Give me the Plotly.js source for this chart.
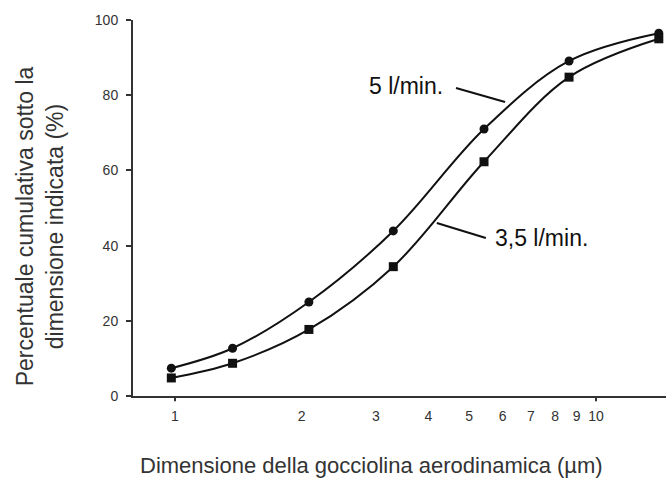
<!DOCTYPE html>
<html>
<head>
<meta charset="utf-8">
<script src="https://cdn.plot.ly/plotly-3.0.1.min.js"></script>
<style>html,body{margin:0;padding:0;background:#fff;}#chart{width:666px;height:478px;}</style>
</head>
<body>
<div id="chart"></div>
<script>
// Data
const sizes = [0.98, 1.37, 2.08, 3.3, 5.42, 8.63, 14.1];       // aerodynamic droplet size (µm)
const flow5 = [7.4, 12.7, 25.0, 43.9, 71.0, 89.1, 96.5];        // 5 l/min.
const flow35 = [4.8, 8.7, 17.7, 34.4, 62.3, 84.8, 95.0];        // 3,5 l/min.
const xTickVals = [1, 2, 3, 4, 5, 6, 7, 8, 9, 10];
const xTickText = ['1', '2', '3', '4', '5', '6', '7', '8', '9', '10'];
const xMarkedTicks = [1, 10];
const yTickVals = [0, 20, 40, 60, 80, 100];
const xTitle = 'Dimensione della gocciolina aerodinamica (µm)';
const yTitle = 'Percentuale cumulativa sotto la<br>dimensione indicata (%)';

const FONT = 'Liberation Sans, Arial, sans-serif';
const INK = '#111';
const GREY = '#333';

const traces = [
  {
    x: sizes, y: flow5, type: 'scatter', mode: 'lines+markers', name: '5 l/min.',
    line: {color: INK, width: 2, shape: 'spline', smoothing: 1},
    marker: {symbol: 'circle', size: 9, color: INK}
  },
  {
    x: sizes, y: flow35, type: 'scatter', mode: 'lines+markers', name: '3,5 l/min.',
    line: {color: INK, width: 2, shape: 'spline', smoothing: 1},
    marker: {symbol: 'square', size: 9, color: INK}
  }
];

const shapes = xMarkedTicks.map(v => ({
  type: 'line', xref: 'x', yref: 'paper', x0: v, x1: v, y0: 0, y1: -0.014,
  line: {color: GREY, width: 2}
}));
shapes.push(
  {type: 'line', xref: 'paper', yref: 'paper', x0: 0.606, y0: 0.819, x1: 0.698, y1: 0.782, line: {color: INK, width: 2}},
  {type: 'line', xref: 'paper', yref: 'paper', x0: 0.570, y0: 0.460, x1: 0.662, y1: 0.420, line: {color: INK, width: 2}}
);

const layout = {
  width: 666, height: 478,
  margin: {l: 133, r: 0, t: 20, b: 82},
  paper_bgcolor: '#fff', plot_bgcolor: '#fff',
  showlegend: false,
  font: {family: FONT, color: GREY, size: 14},
  xaxis: {
    type: 'log', range: [-0.0998, 1.1663],
    tickmode: 'array', tickvals: xTickVals, ticktext: xTickText,
    ticks: 'outside', ticklen: 6, tickcolor: 'rgba(0,0,0,0)',
    showgrid: false, zeroline: false,
    showline: true, linecolor: GREY, linewidth: 2,
    tickfont: {family: FONT, size: 14, color: GREY}
  },
  yaxis: {
    range: [0, 100], tickvals: yTickVals,
    ticks: 'outside', ticklen: 5, tickwidth: 2, tickcolor: GREY,
    ticklabelstandoff: 5,
    showgrid: false, zeroline: false,
    showline: true, linecolor: GREY, linewidth: 2,
    tickfont: {family: FONT, size: 14, color: GREY}
  },
  shapes: shapes,
  annotations: [
    {xref: 'paper', yref: 'paper', x: 0.512, y: 0.824, text: '5 l/min.', showarrow: false, xanchor: 'center', yanchor: 'middle', font: {family: FONT, size: 23, color: INK}},
    {xref: 'paper', yref: 'paper', x: 0.675, y: 0.420, text: '3,5 l/min.', showarrow: false, xanchor: 'left', yanchor: 'middle', font: {family: FONT, size: 23, color: INK}},
    {xref: 'paper', yref: 'paper', x: 0.448, y: -0.184, text: xTitle, showarrow: false, xanchor: 'center', yanchor: 'middle', font: {family: FONT, size: 22, color: GREY}},
    {xref: 'paper', yref: 'paper', x: -0.174, y: 0.452, text: yTitle, showarrow: false, xanchor: 'center', yanchor: 'middle', textangle: -90, font: {family: FONT, size: 23, color: GREY}}
  ]
};

Plotly.newPlot('chart', traces, layout, {displayModeBar: false, staticPlot: true});
</script>
</body>
</html>
